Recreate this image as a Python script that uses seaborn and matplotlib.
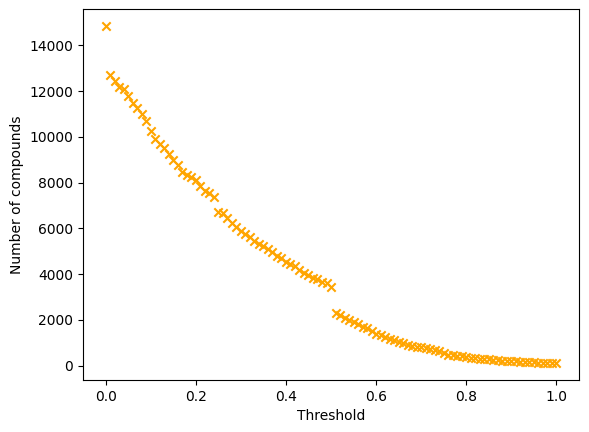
import numpy as np
import pandas as pd
import matplotlib
matplotlib.use("Agg")
import matplotlib.pyplot as plt
import seaborn as sns

# threshold 0.00 .. 1.00, step 0.01
thresholds = [round(i * 0.01, 2) for i in range(101)]

counts = [
    14850, 12700, 12450, 12200, 12100, 11800, 11500, 11250, 11000, 10700,
    10250, 9900, 9700, 9500, 9250, 9000, 8750, 8450, 8350, 8250,
    8100, 7850, 7650, 7550, 7350, 6700, 6650, 6450, 6250, 6050,
    5900, 5750, 5600, 5450, 5300, 5250, 5100, 4950, 4800, 4700,
    4550, 4450, 4350, 4200, 4050, 3950, 3850, 3800, 3650, 3600,
    3450, 2300, 2200, 2100, 2000, 1900, 1800, 1700, 1650, 1500,
    1400, 1350, 1250, 1150, 1100, 1050, 1000, 900, 850, 820,
    800, 780, 720, 680, 650, 560, 480, 450, 420, 400,
    370, 350, 320, 300, 290, 270, 250, 240, 220, 200,
    190, 180, 170, 160, 150, 140, 130, 125, 120, 110,
    100,
]

df = pd.DataFrame({"Threshold": thresholds, "Number of compounds": counts})

fig, ax = plt.subplots(figsize=(5.89, 4.32), dpi=100)
fig.subplots_adjust(left=0.141, right=0.983, bottom=0.12, top=0.979)

sns.scatterplot(data=df, x="Threshold", y="Number of compounds",
                marker="x", color="orange", s=36, linewidth=1.5, ax=ax)

ax.set_xlabel("Threshold")
ax.set_ylabel("Number of compounds")

plt.savefig("out.png", dpi=100)
